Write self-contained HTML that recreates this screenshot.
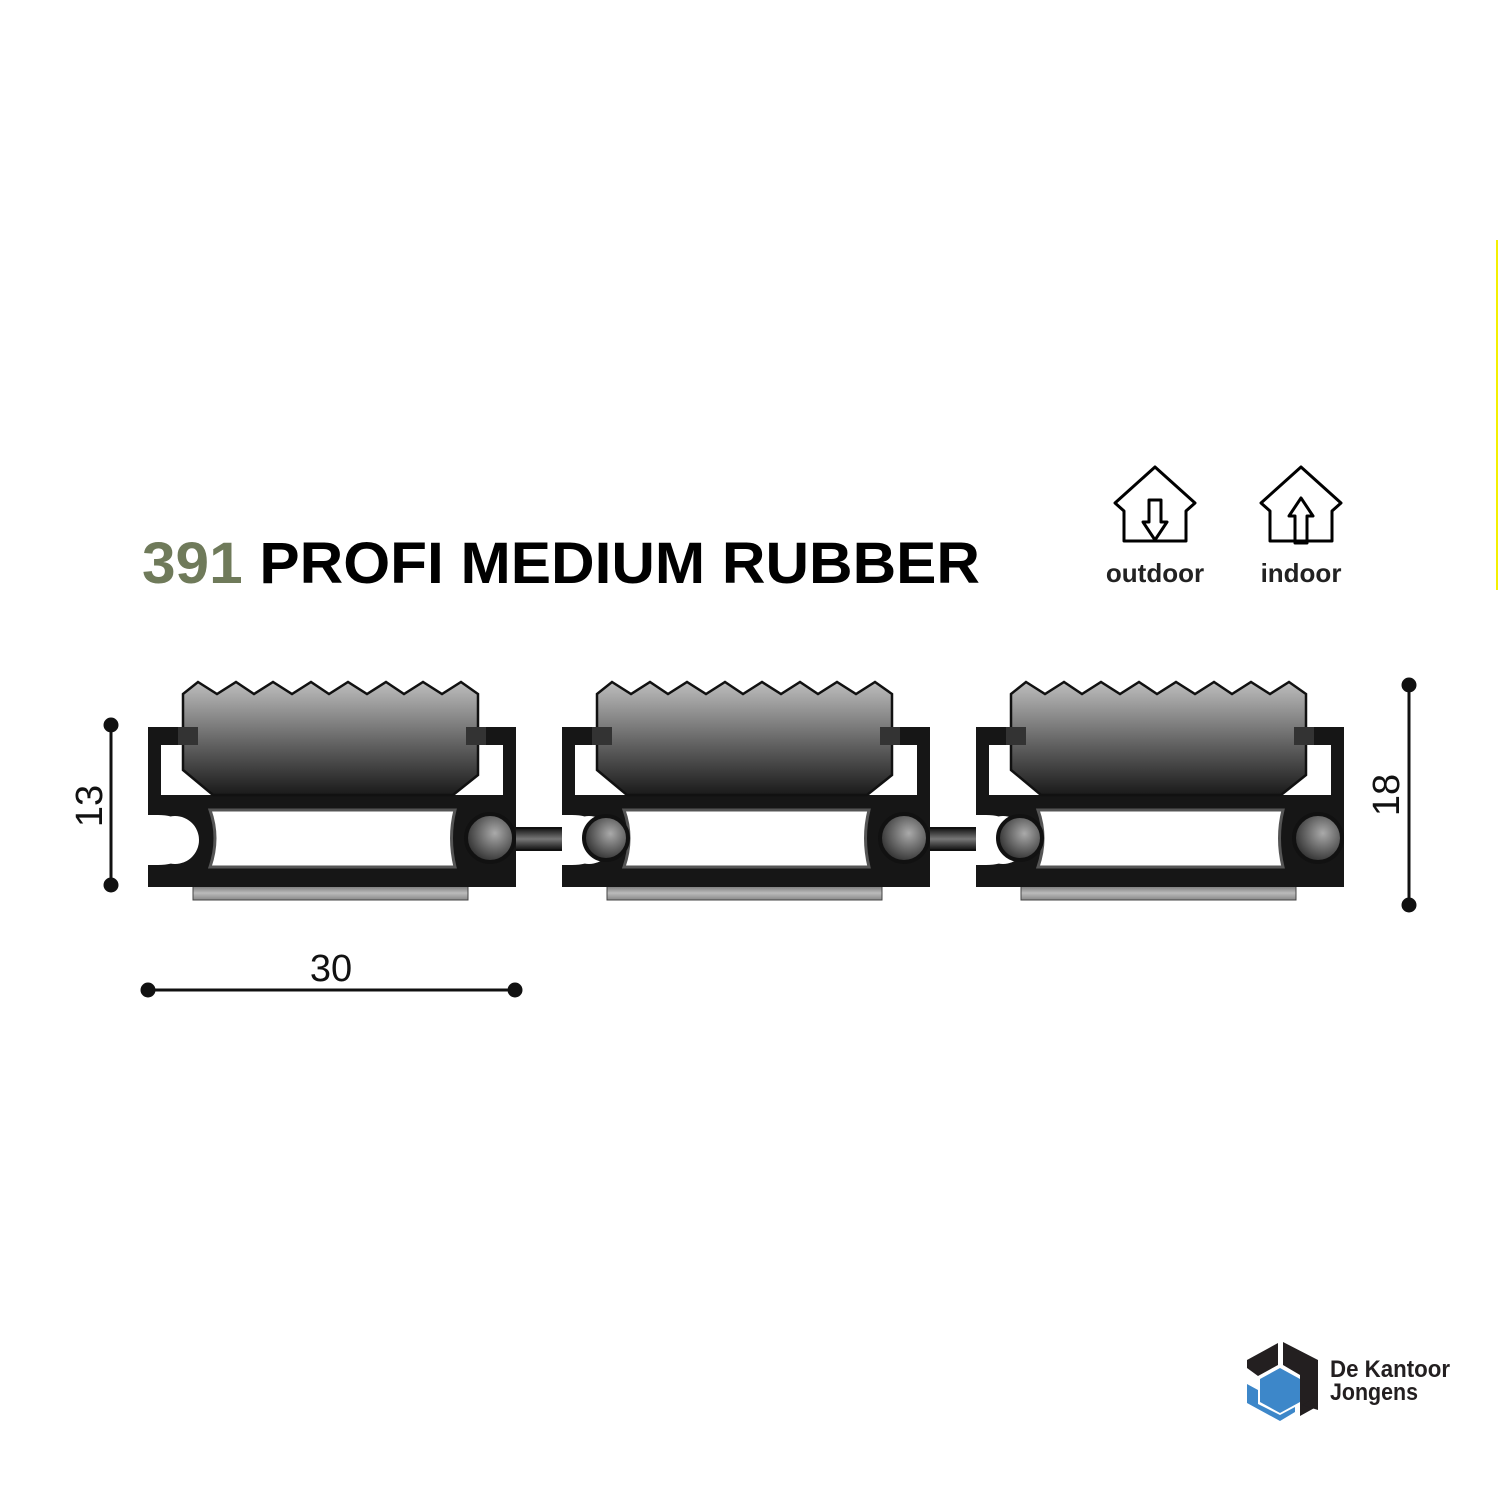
<!DOCTYPE html>
<html><head><style>
html,body{margin:0;padding:0;background:#fff;}
svg{display:block;}
</style></head><body>
<svg width="1500" height="1500" viewBox="0 0 1500 1500" xmlns="http://www.w3.org/2000/svg">
<defs>
<linearGradient id="rub" x1="0" y1="0" x2="0" y2="1">
<stop offset="0" stop-color="#bdbdbd"/><stop offset="0.5" stop-color="#6a6a6a"/><stop offset="1" stop-color="#1a1a1a"/>
</linearGradient>
<linearGradient id="bar" x1="0" y1="0" x2="0" y2="1">
<stop offset="0" stop-color="#111"/><stop offset="0.5" stop-color="#777"/><stop offset="1" stop-color="#111"/>
</linearGradient>
<linearGradient id="strip" x1="0" y1="0" x2="0" y2="1">
<stop offset="0" stop-color="#777"/><stop offset="0.5" stop-color="#bbb"/><stop offset="1" stop-color="#888"/>
</linearGradient>
<radialGradient id="knob" cx="0.6" cy="0.4" r="0.7">
<stop offset="0" stop-color="#aaa"/><stop offset="1" stop-color="#222"/>
</radialGradient>
<g id="mod">
  <rect x="45" y="216" width="275" height="14" fill="url(#strip)" stroke="#444" stroke-width="1"/>
  <path d="M0 57 H50 V75 H13 V125 H355 V75 H320 V57 H368 V217 H0 V195 H10 Q40 195 40 170 Q40 145 10 145 H0 Z" fill="#161616"/>
  <path d="M62 140 H307 Q300 168 307 197 H62 Q72 168 62 140 Z" fill="#fff" stroke="#555" stroke-width="3"/>
  <circle cx="27" cy="170" r="24" fill="#fff"/>
  <rect x="0" y="150" width="27" height="40" fill="#fff"/>
  <circle cx="342" cy="168" r="24" fill="url(#knob)" stroke="#111" stroke-width="4"/>
  <path d="M35 24 L50 12 L69 24 L88 12 L106 24 L125 12 L144 24 L163 12 L181 24 L200 12 L219 24 L238 12 L256 24 L275 12 L294 24 L313 12 L330 24 V105 L305 125 H65 L35 100 Z" fill="url(#rub)" stroke="#111" stroke-width="2.5"/>
  <rect x="30" y="57" width="20" height="18" fill="#333"/>
  <rect x="318" y="57" width="20" height="18" fill="#333"/>
</g>
</defs>

<line x1="1497" y1="240" x2="1497" y2="590" stroke="#f5f000" stroke-width="2"/>

<text x="142" y="583" font-family="Liberation Sans, sans-serif" font-weight="bold" font-size="58" textLength="838" lengthAdjust="spacingAndGlyphs"><tspan fill="#6f7a5a">391</tspan> <tspan fill="#000">PROFI MEDIUM RUBBER</tspan></text>

<g fill="none" stroke="#000" stroke-width="3" stroke-linejoin="round">
<path d="M1155 467 L1195 503 L1186 511 V541 H1124 V511 L1115 503 Z"/>
<path d="M1149 500 V522 H1143 L1155 540 L1167 522 H1161 V500 Z"/>
<path d="M1301 467 L1341 503 L1332 511 V541 H1270 V511 L1261 503 Z"/>
<path d="M1295 543 V516 H1289 L1301 498 L1313 516 H1307 V543 Z"/>
</g>
<text x="1155" y="582" text-anchor="middle" font-family="Liberation Sans, sans-serif" font-weight="bold" font-size="26" fill="#222">outdoor</text>
<text x="1301" y="582" text-anchor="middle" font-family="Liberation Sans, sans-serif" font-weight="bold" font-size="26" fill="#222">indoor</text>

<rect x="505" y="828" width="72" height="22" fill="url(#bar)" stroke="#111" stroke-width="2"/>
<rect x="919" y="828" width="72" height="22" fill="url(#bar)" stroke="#111" stroke-width="2"/>

<use href="#mod" x="148" y="670"/>
<use href="#mod" x="562" y="670"/>
<use href="#mod" x="976" y="670"/>
<circle cx="606" cy="838" r="22" fill="url(#knob)" stroke="#111" stroke-width="4"/>
<circle cx="1020" cy="838" r="22" fill="url(#knob)" stroke="#111" stroke-width="4"/>

<g stroke="#111" stroke-width="3" fill="#111">
<line x1="111" y1="725" x2="111" y2="885"/>
<circle cx="111" cy="725" r="6"/><circle cx="111" cy="885" r="6"/>
<line x1="1409" y1="685" x2="1409" y2="905"/>
<circle cx="1409" cy="685" r="6"/><circle cx="1409" cy="905" r="6"/>
<line x1="148" y1="990" x2="515" y2="990"/>
<circle cx="148" cy="990" r="6"/><circle cx="515" cy="990" r="6"/>
</g>
<text transform="translate(102,806) rotate(-90)" text-anchor="middle" font-family="Liberation Sans, sans-serif" font-size="38" fill="#111">13</text>
<text transform="translate(1399,795) rotate(-90)" text-anchor="middle" font-family="Liberation Sans, sans-serif" font-size="38" fill="#111">18</text>
<text x="331" y="981" text-anchor="middle" font-family="Liberation Sans, sans-serif" font-size="38" fill="#111">30</text>

<g>
<path d="M1283 1342 L1318 1360 V1406 L1300 1416 V1375 L1283 1365 Z" fill="#231f20"/>
<path d="M1278 1343 V1365 L1258 1376 L1247 1368 V1360 Z" fill="#231f20"/>
<path d="M1280 1368 L1300 1379 V1402 L1280 1413 L1260 1402 V1379 Z" fill="#3d87c9"/>
<path d="M1247 1384 L1258 1390 V1404 L1280 1415 L1295 1407 V1412 L1280 1421 L1247 1403 Z" fill="#3d87c9"/>
<path d="M1302 1405 L1318 1396 V1410 Z" fill="#231f20"/>
</g>
<text x="1330" y="1377" font-family="Liberation Sans, sans-serif" font-weight="bold" font-size="24" fill="#231f20" textLength="120" lengthAdjust="spacingAndGlyphs">De Kantoor</text>
<text x="1330" y="1400" font-family="Liberation Sans, sans-serif" font-weight="bold" font-size="24" fill="#231f20" textLength="88" lengthAdjust="spacingAndGlyphs">Jongens</text>
</svg>
</body></html>
